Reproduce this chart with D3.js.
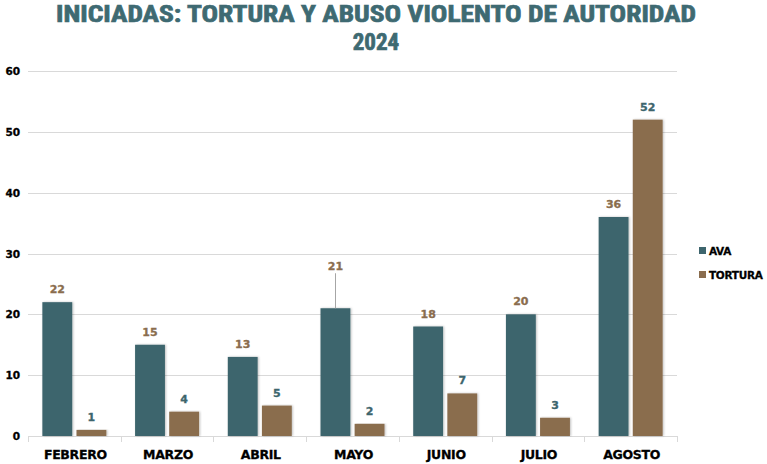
<!DOCTYPE html>
<html>
<head>
<meta charset="utf-8">
<script src="https://cdn.jsdelivr.net/npm/d3@7"></script>
<style>
  body { margin: 0; background: #fff; }
</style>
</head>
<body>
<div id="rootDiv"></div>
<script>
const width = 767
const height = 464

const months = ["FEBRERO", "MARZO", "ABRIL", "MAYO", "JUNIO", "JULIO", "AGOSTO"]
const seriesNames = ["AVA", "TORTURA"]
const ava = [22, 15, 13, 21, 18, 20, 36]
const tortura = [1, 4, 5, 2, 7, 3, 52]
const yTicks = [0, 10, 20, 30, 40, 50, 60]

const teal = "#3d656d"
const brown = "#8a6d4e"
const colors = [teal, brown]
// the data labels use the other series' colour
const labelColors = [brown, teal]

const svg = d3.select("#rootDiv")
    .append("svg")
    .attr("width", width)
    .attr("height", height)

const plotLeft = 28, plotRight = 677, plotTop = 71, plotBottom = 436

const x = d3.scaleBand()
    .domain(months)
    .range([plotLeft, plotRight])

const inner = d3.scaleBand()
    .domain(seriesNames)
    .range([0, 64])
    .paddingInner(0.125)

const y = d3.scaleLinear()
    .domain([0, 60])
    .range([plotBottom, plotTop])

// gridlines
svg.append("g")
    .selectAll("line")
    .data(yTicks.slice(1))
    .join("line")
    .attr("x1", plotLeft)
    .attr("x2", plotRight)
    .attr("y1", d => Math.round(y(d)) + 0.5)
    .attr("y2", d => Math.round(y(d)) + 0.5)
    .attr("stroke", "#d9d9d9")
    .attr("stroke-width", 1)

// y labels
svg.append("g")
    .selectAll("text")
    .data(yTicks)
    .join("text")
    .attr("x", 20)
    .attr("y", d => y(d) + 4)
    .attr("text-anchor", "end")
    .attr("font-family", "DejaVu Sans, sans-serif")
    .attr("font-weight", "bold")
    .attr("font-size", 10.5)
    .attr("stroke", "#000")
    .attr("stroke-width", 0.3)
    .attr("fill", "#000")
    .text(d => d)

// x axis line + tick marks
svg.append("line")
    .attr("x1", plotLeft)
    .attr("x2", plotRight)
    .attr("y1", plotBottom + 0.5)
    .attr("y2", plotBottom + 0.5)
    .attr("stroke", "#d9d9d9")

svg.append("g")
    .selectAll("line")
    .data(months.concat(["end"]))
    .join("line")
    .attr("x1", (d, i) => Math.round(plotLeft + i * x.bandwidth()) + 0.5)
    .attr("x2", (d, i) => Math.round(plotLeft + i * x.bandwidth()) + 0.5)
    .attr("y1", plotBottom)
    .attr("y2", plotBottom + 6)
    .attr("stroke", "#d9d9d9")

svg.append("g")
    .selectAll("text")
    .data(months)
    .join("text")
    .attr("x", d => x(d) + x.bandwidth() / 2 + 1)
    .attr("y", 459)
    .attr("text-anchor", "middle")
    .attr("font-family", "DejaVu Sans, sans-serif")
    .attr("font-weight", "bold")
    .attr("font-size", 12.5)
    .attr("letter-spacing", -0.3)
    .attr("stroke", "#000")
    .attr("stroke-width", 0.3)
    .attr("fill", "#000")
    .text(d => d)

const defs = svg.append("defs")
defs.append("filter")
    .attr("id", "shadow")
    .attr("x", "-20%").attr("y", "-5%").attr("width", "140%").attr("height", "110%")
    .append("feDropShadow")
    .attr("dx", 1).attr("dy", 0).attr("stdDeviation", 0.8)
    .attr("flood-color", "#000").attr("flood-opacity", 0.25)

const series = [ava, tortura]
const offset = (x.bandwidth() - 64) / 2

series.forEach((vals, s) => {
    const g = svg.append("g")
    g.selectAll("rect")
        .data(vals)
        .join("rect")
        .attr("x", (d, i) => x(months[i]) + offset + inner(seriesNames[s]))
        .attr("width", inner.bandwidth())
        .attr("y", d => y(d))
        .attr("height", d => plotBottom - y(d))
        .attr("fill", colors[s])
        .attr("filter", "url(#shadow)")

    g.selectAll("text")
        .data(vals)
        .join("text")
        .attr("x", (d, i) => x(months[i]) + offset + inner(seriesNames[s]) + inner.bandwidth() / 2)
        .attr("y", (d, i) => y(d) - (s === 0 && months[i] === "MAYO" ? 38 : 9))
        .attr("text-anchor", "middle")
        .attr("font-family", "DejaVu Sans, sans-serif")
        .attr("font-weight", "bold")
        .attr("font-size", 11)
        .attr("stroke", labelColors[s])
        .attr("stroke-width", 0.3)
        .attr("fill", labelColors[s])
        .text(d => d)
})

// leader line for the moved MAYO label
const mi = months.indexOf("MAYO")
const mx = Math.round(x("MAYO") + offset + inner("AVA") + inner.bandwidth() / 2) + 0.5
svg.append("line")
    .attr("x1", mx).attr("x2", mx)
    .attr("y1", y(ava[mi]) - 35)
    .attr("y2", y(ava[mi]))
    .attr("stroke", "#a6a6a6")

// title
svg.append("text")
    .attr("x", 376)
    .attr("y", 22)
    .attr("text-anchor", "middle")
    .attr("font-family", "Liberation Sans Narrow, Roboto Condensed, Arial Narrow, sans-serif")
    .attr("font-weight", "bold")
    .attr("font-size", 23)
    .attr("textLength", 640)
    .attr("lengthAdjust", "spacingAndGlyphs")
    .attr("stroke", "#3e6a72")
    .attr("stroke-width", 0.7)
    .attr("fill", "#3e6a72")
    .text("INICIADAS: TORTURA Y ABUSO VIOLENTO DE AUTORIDAD")

svg.append("text")
    .attr("x", 376)
    .attr("y", 50)
    .attr("text-anchor", "middle")
    .attr("font-family", "Liberation Sans Narrow, Roboto Condensed, Arial Narrow, sans-serif")
    .attr("font-weight", "bold")
    .attr("font-size", 23)
    .attr("stroke", "#3e6a72")
    .attr("stroke-width", 0.7)
    .attr("fill", "#3e6a72")
    .text("2024")

// legend
const legend = svg.append("g")
    .selectAll("g")
    .data(seriesNames)
    .join("g")
    .attr("transform", (d, i) => `translate(699, ${247 + i * 24})`)

legend.append("rect")
    .attr("width", 7)
    .attr("height", 7)
    .attr("fill", (d, i) => colors[i])

legend.append("text")
    .attr("x", 10)
    .attr("y", 7.5)
    .attr("font-family", "DejaVu Sans, sans-serif")
    .attr("font-weight", "bold")
    .attr("font-size", 10.5)
    .attr("letter-spacing", -0.3)
    .attr("stroke", "#000")
    .attr("stroke-width", 0.3)
    .attr("fill", "#000")
    .text(d => d)
</script>
</body>
</html>
